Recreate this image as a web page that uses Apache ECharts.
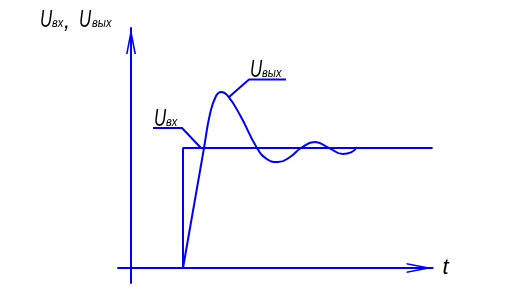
<!DOCTYPE html>
<html><head><meta charset="utf-8">
<script src="https://cdn.jsdelivr.net/npm/echarts@6/dist/echarts.min.js"></script>
<style>html,body{margin:0;padding:0;background:#fff}#c{width:508px;height:297px}</style>
</head><body><div id="c"></div>
<script>
// ---- data (time t in arbitrary units, voltage U normalised to step height) ----
// input step U_вх
const inputT = [1.0, 1.0, 5.8];
const inputU = [0, 1.0, 1.0];
// output response U_вых
const outputT = [1.0, 1.404, 1.519, 1.635, 1.731, 1.846, 2.096, 2.423, 2.615, 2.827, 3.058, 3.269, 3.538, 3.808, 4.077, 4.231, 4.346];
const outputU = [0, 1.0, 1.283, 1.433, 1.467, 1.442, 1.275, 1.0, 0.908, 0.883, 0.925, 1.0, 1.05, 1.0, 0.95, 0.963, 1.008];
// callout leader lines
const leaderInT = [0.423, 0.981, 1.346];
const leaderInU = [1.167, 1.167, 1.0];
const leaderOutT = [1.885, 2.269, 2.981];
const leaderOutU = [1.425, 1.571, 1.571];
// axis range
const tRange = [-0.25, 5.8];
const uRange = [-0.125, 2.0];
// texts
const yTitle = ['U', 'вх', ',', 'U', 'вых'];
const xTitle = 't';
const inLabel = ['U', 'вх'];
const outLabel = ['U', 'вых'];

const zip = (a, b) => a.map((v, i) => [v, b[i]]);
const BLUE = '#0000ff';
const FONT = '"Liberation Sans", Arial, sans-serif';
const arrow = 'path://M5,0 L10,26 L8.4,26 L5,8.3 L1.6,26 L0,26 Z';

function txt(str, x, baseline, fs, sx) {
  const y = baseline - 0.3465 * fs;
  return {
    type: 'text', x: x, y: y, scaleX: sx, z: 100,
    style: {
      text: str, fontSize: fs, fontStyle: 'italic', fontFamily: FONT, fill: '#000',
      align: 'left', verticalAlign: 'middle', textAlign: 'left', textVerticalAlign: 'middle'
    }
  };
}

const chart = echarts.init(document.getElementById('c'), null, {renderer: 'canvas'});
const axisLine = {
  show: true, onZero: true,
  symbol: ['none', arrow], symbolSize: [10, 26], symbolOffset: [0, -13],
  lineStyle: {color: BLUE, width: 2}
};
const lineSeries = (data, smooth) => ({
  type: 'line', data: data, symbol: 'none', smooth: smooth, silent: true,
  lineStyle: {color: BLUE, width: 2}, z: 5
});

chart.setOption({
  animation: false,
  backgroundColor: '#fff',
  grid: {left: 118, right: 75.4, top: 28, bottom: 14, containLabel: false},
  xAxis: {
    type: 'value', min: tRange[0], max: tRange[1],
    axisLine: axisLine, axisTick: {show: false}, axisLabel: {show: false}, splitLine: {show: false},
    name: xTitle, nameLocation: 'end', nameGap: 10,
    nameTextStyle: {fontStyle: 'italic', fontSize: 22, fontFamily: FONT, color: '#000', verticalAlign: 'middle', padding: [2, 0, 0, 0]}
  },
  yAxis: {
    type: 'value', min: uRange[0], max: uRange[1],
    axisLine: axisLine, axisTick: {show: false}, axisLabel: {show: false}, splitLine: {show: false}
  },
  series: [
    lineSeries(zip(inputT, inputU), false),
    lineSeries(zip(outputT, outputU), 0.5),
    lineSeries(zip(leaderInT, leaderInU), false),
    lineSeries(zip(leaderOutT, leaderOutU), false)
  ],
  graphic: [
    txt(yTitle[0], 40, 29, 24, 0.7),
    txt(yTitle[1], 52, 28, 13, 0.85),
    txt(yTitle[2], 64, 29, 22, 1),
    txt(yTitle[3], 79, 29, 24, 0.7),
    txt(yTitle[4], 92, 28, 13, 0.85),
    txt(inLabel[0], 154, 128, 24, 0.7),
    txt(inLabel[1], 166, 127, 13, 0.85),
    txt(outLabel[0], 250, 79, 24, 0.7),
    txt(outLabel[1], 262, 78, 13, 0.85)
  ]
});
</script>
</body></html>
